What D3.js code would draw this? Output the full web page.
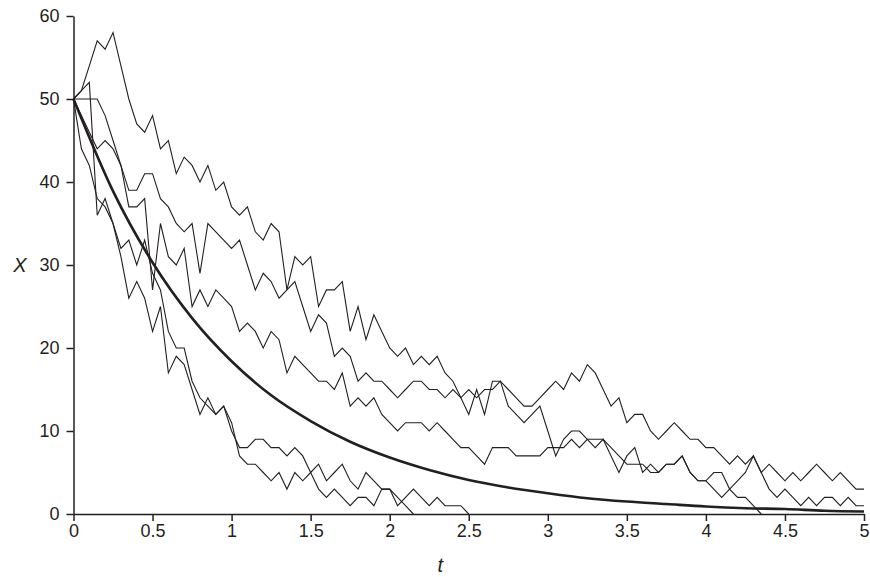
<!DOCTYPE html>
<html>
<head>
<meta charset="utf-8">
<script src="https://cdn.jsdelivr.net/npm/d3@7"></script>
<style>
  body { margin: 0; background: #fff; }
  svg { font-family: "Liberation Sans", Arial, sans-serif; }
  .axis path, .axis line { stroke: #231f20; stroke-width: 1.5; }
  .axis text { font-size: 18px; fill: #231f20; }
  .sample-path { fill: none; stroke: #231f20; stroke-width: 1.1; stroke-linejoin: miter; }
  .mean-path { fill: none; stroke: #231f20; stroke-width: 2.6; }
  .axis-title { font-size: 20px; font-style: italic; fill: #231f20; }
</style>
</head>
<body>
<svg id="chart" width="870" height="577"></svg>
<script>
// sample paths, X read every dt = 0.05 from t = 0
const dt = 0.05;
const pathA = [
  50, 51, 54, 57, 56, 58, 54, 50, 47, 46, 48, 44, 45, 41, 43, 42, 40, 42, 39, 40, 37,
  36, 37, 34, 33, 35, 34, 27, 31, 30, 31, 25, 27, 27, 28, 22, 25, 21, 24, 22, 20,
  19, 20, 18, 19, 18, 19, 17, 16, 14, 12, 15, 12, 16, 16, 15, 14, 13, 13, 14, 15,
  16, 15, 17, 16, 18, 17, 15, 13, 14, 11, 12, 12, 10, 9, 10, 11, 10, 9, 9, 8,
  8, 7, 6, 7, 6, 7, 5, 6, 5, 4, 5, 4, 5, 6, 5, 4, 5, 4, 3, 3,
];
const pathB = [
  50, 48, 46, 44, 45, 44, 42, 39, 39, 41, 41, 38, 37, 35, 34, 35, 29, 35, 34, 33, 32,
  33, 30, 27, 29, 28, 26, 27, 28, 25, 22, 24, 23, 19, 20, 19, 16, 17, 16, 16, 15,
  14, 15, 16, 16, 15, 15, 14, 15, 14, 15, 14, 15, 15, 16, 13, 12, 11, 12, 13, 10,
  7, 9, 10, 10, 9, 8, 9, 7, 5, 7, 8, 5, 6, 5, 6, 6, 7, 5, 4, 4,
  3, 2, 3, 4, 5, 7, 5, 3, 2, 3, 2, 1, 2, 1, 2, 2, 1, 2, 1, 1,
];
const pathC = [
  50, 50, 50, 50, 48, 45, 42, 37, 37, 38, 27, 35, 31, 30, 32, 25, 27, 25, 27, 26, 25,
  22, 23, 22, 20, 22, 21, 17, 19, 18, 17, 16, 16, 15, 17, 13, 14, 13, 14, 12, 11,
  10, 11, 11, 11, 10, 11, 10, 9, 8, 8, 7, 6, 8, 8, 8, 7, 7, 7, 7, 8,
  8, 8, 9, 8, 9, 9, 9, 8, 7, 6, 6, 6, 5, 5, 6, 6, 7, 5, 4, 4,
  5, 5, 3, 2, 2, 1, 0,
];
const pathD = [
  50, 51, 52, 36, 38, 35, 31, 26, 28, 26, 22, 25, 17, 19, 18, 15, 12, 14, 12, 13, 10,
  8, 8, 9, 9, 8, 8, 7, 8, 7, 5, 3, 2, 3, 2, 1, 2, 2, 1, 3, 3,
  2, 1, 0,
];
const pathE = [
  50, 44, 42, 38, 37, 35, 32, 33, 30, 33, 29, 27, 22, 20, 20, 16, 14, 13, 12, 13, 11,
  7, 6, 6, 5, 4, 5, 3, 5, 4, 5, 6, 4, 5, 6, 4, 3, 5, 4, 3, 3,
  1, 2, 3, 2, 1, 2, 1, 1, 1, 0,
];
const samplePaths = [pathA, pathB, pathC, pathD, pathE];

// deterministic mean curve, read at t = 0, 0.25, ... 5
const meanT = [0, 0.25, 0.5, 0.75, 1, 1.25, 1.5, 1.75, 2, 2.25, 2.5, 2.75, 3, 3.25, 3.5, 3.75, 4, 4.25, 4.5, 4.75, 5];
const meanX = [50, 38.9, 30.3, 23.6, 18.4, 14.3, 11.2, 8.7, 6.8, 5.3, 4.1, 3.2, 2.5, 1.9, 1.5, 1.2, 0.9, 0.7, 0.6, 0.4, 0.3];

const xTicks = [0, 0.5, 1, 1.5, 2, 2.5, 3, 3.5, 4, 4.5, 5];
const yTicks = [0, 10, 20, 30, 40, 50, 60];

const margin = { top: 16, right: 6, bottom: 63, left: 73.5 };
const svg = d3.select("#chart");
const width = 870 - margin.left - margin.right;
const height = 577 - margin.top - margin.bottom;

const x = d3.scaleLinear().domain([0, 5]).range([0, width]);
const y = d3.scaleLinear().domain([0, 60]).range([height, 0]);

const g = svg.append("g")
  .attr("transform", "translate(" + margin.left + "," + margin.top + ")");

function appendAxes() {
  g.append("g")
    .attr("class", "axis")
    .attr("transform", "translate(0," + height + ")")
    .call(d3.axisBottom(x).tickValues(xTicks).tickFormat(d3.format("")).tickSize(7).tickSizeOuter(0).tickPadding(3));

  g.append("g")
    .attr("class", "axis")
    .call(d3.axisLeft(y).tickValues(yTicks).tickSize(7).tickSizeOuter(0).tickPadding(7));

  svg.append("text")
    .attr("class", "axis-title")
    .attr("x", margin.left + x(2.32))
    .attr("y", 572)
    .attr("text-anchor", "middle")
    .text("t");

  svg.append("text")
    .attr("class", "axis-title")
    .attr("x", 20)
    .attr("y", margin.top + y(30))
    .attr("dy", "0.35em")
    .attr("text-anchor", "middle")
    .text("X");
}

function appendPaths() {
  const line = d3.line()
    .x((d, i) => x(i * dt))
    .y((d) => y(d));

  g.append("g")
    .selectAll("path")
    .data(samplePaths)
    .enter()
    .append("path")
    .attr("class", "sample-path")
    .attr("d", line);

  const meanLine = d3.line()
    .x((d, i) => x(meanT[i]))
    .y((d) => y(d))
    .curve(d3.curveMonotoneX);

  g.append("path")
    .datum(meanX)
    .attr("class", "mean-path")
    .attr("d", meanLine);
}

appendPaths();
appendAxes();
</script>
</body>
</html>
